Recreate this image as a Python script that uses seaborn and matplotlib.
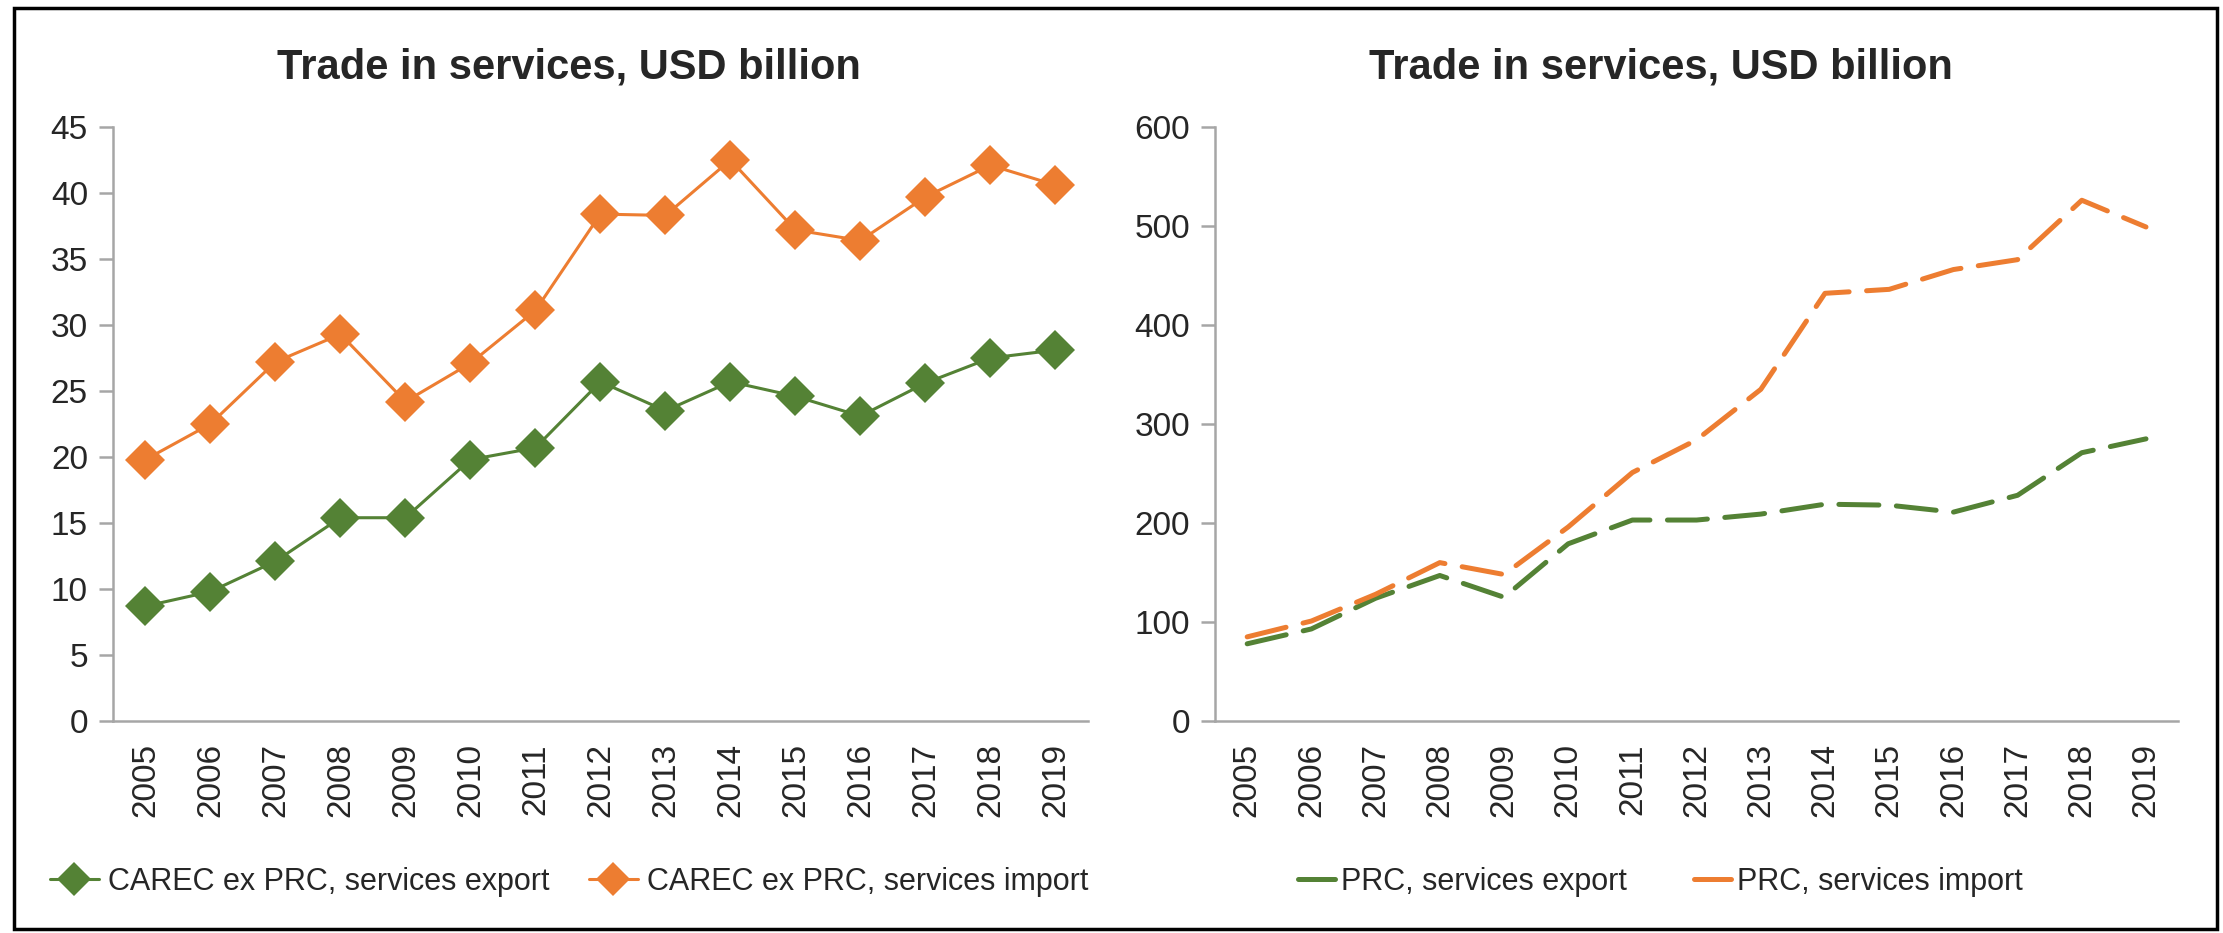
import matplotlib
matplotlib.use("Agg")
import matplotlib.pyplot as plt
import seaborn as sns
import pandas as pd
from matplotlib.patches import Rectangle
from matplotlib.lines import Line2D

years = list(range(2005, 2020))

# CAREC excluding PRC, USD billion
carec_export = [8.7, 9.8, 12.1, 15.4, 15.4, 19.8, 20.7, 25.7, 23.5, 25.7, 24.6, 23.1, 25.6, 27.5, 28.1]
carec_import = [19.8, 22.5, 27.2, 29.3, 24.2, 27.1, 31.1, 38.4, 38.3, 42.5, 37.2, 36.4, 39.7, 42.1, 40.6]

# PRC, USD billion
prc_export = [78, 93, 124, 147, 125, 179, 203, 203, 209, 219, 218, 211, 228, 271, 285]
prc_import = [85, 101, 128, 160, 148, 196, 251, 284, 335, 432, 436, 456, 466, 526, 499]

title_text = "Trade in services, USD billion"
GREEN = "#548235"
ORANGE = "#ED7D31"
AXIS_GREY = "#A6A6A6"

sns.set_theme(style="white")
plt.rcParams["font.family"] = ["Liberation Sans", "DejaVu Sans"]

fig = plt.figure(figsize=(22.23, 9.33), dpi=100)
ax_l = fig.add_axes([0.0508, 0.2272, 0.4386, 0.6367])
ax_r = fig.add_axes([0.5466, 0.2272, 0.4332, 0.6367])

left_df = pd.DataFrame({"year": years, "export": carec_export, "import": carec_import})
right_df = pd.DataFrame({"year": years, "export": prc_export, "import": prc_import})

# left panel: solid lines with diamond markers
for col, color in [("export", GREEN), ("import", ORANGE)]:
    sns.lineplot(data=left_df, x="year", y=col, ax=ax_l, color=color, lw=2.2,
                 marker="D", markersize=20, markeredgewidth=0, legend=False)

# right panel: long dashed lines
for col, color in [("export", GREEN), ("import", ORANGE)]:
    sns.lineplot(data=right_df, x="year", y=col, ax=ax_r, color=color, lw=3.6,
                 dashes=False, legend=False)
for line in ax_r.get_lines():
    line.set_dashes((8, 3.5))
    line.set_dash_capstyle("round")

def style_axis(ax, ymax, step):
    ax.set_xlim(2004.5, 2019.5)
    ax.set_ylim(0, ymax)
    ax.set_xticks(years)
    ax.set_xticklabels([str(y) for y in years], rotation=90, fontsize=24)
    ax.set_yticks(range(0, ymax + 1, step))
    ax.tick_params(axis="y", labelsize=24, length=10, width=1.8, color=AXIS_GREY,
                   direction="out", left=True, pad=8)
    ax.tick_params(axis="x", length=0, pad=16)
    ax.set_xlabel("")
    ax.set_ylabel("")
    for s in ["top", "right"]:
        ax.spines[s].set_visible(False)
    for s in ["left", "bottom"]:
        ax.spines[s].set_color(AXIS_GREY)
        ax.spines[s].set_linewidth(1.8)
    ax.grid(False)

style_axis(ax_l, 45, 5)
style_axis(ax_r, 600, 100)

fig.text(0.256, 0.928, title_text, ha="center", va="center", fontsize=30, fontweight="bold")
fig.text(0.747, 0.928, title_text, ha="center", va="center", fontsize=30, fontweight="bold")

left_handles = [
    Line2D([], [], color=GREEN, lw=2.2, marker="D", markersize=17, markeredgewidth=0),
    Line2D([], [], color=ORANGE, lw=2.2, marker="D", markersize=17, markeredgewidth=0),
]
fig.legend(left_handles, ["CAREC ex PRC, services export", "CAREC ex PRC, services import"],
           loc="center", bbox_to_anchor=(0.256, 0.055), ncol=2, frameon=False, fontsize=22,
           handlelength=1.6, handletextpad=0.3, columnspacing=1.3)

right_handles = [
    Line2D([], [], color=GREEN, lw=3.6, solid_capstyle="round"),
    Line2D([], [], color=ORANGE, lw=3.6, solid_capstyle="round"),
]
fig.legend(right_handles, ["PRC, services export", "PRC, services import"],
           loc="center", bbox_to_anchor=(0.747, 0.055), ncol=2, frameon=False, fontsize=22,
           handlelength=1.2, handletextpad=0.2, columnspacing=2.2)

# outer frame around the figure
fig.patches.append(Rectangle((14 / 2223, 4 / 933), 2203 / 2223, 921 / 933, transform=fig.transFigure,
                             fill=False, edgecolor="black", linewidth=2.5))

fig.savefig("out.png", dpi=100)
